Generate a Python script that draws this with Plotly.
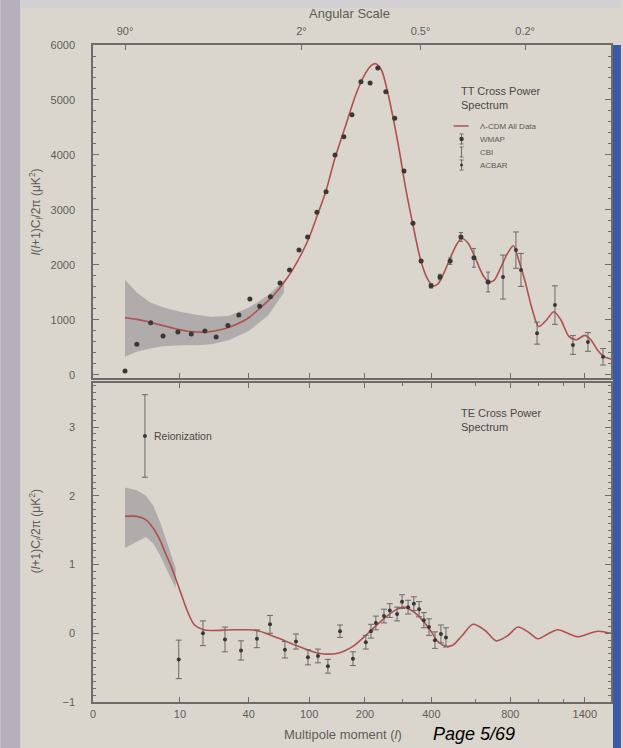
import numpy as np
import plotly.graph_objects as go

# ---------------- data ----------------
# TT: Lambda-CDM model curve
tt_model_l = [2, 3, 4, 5, 6, 8, 10, 12, 15, 20, 25, 30, 40, 50, 60, 70, 80, 90, 100, 110, 125, 140,
              160, 180, 200, 215, 226, 240, 255, 270, 290, 310, 335, 360, 385, 405, 425, 450, 480,
              510, 530, 560, 600, 640, 670, 700, 740, 780, 820, 860, 900, 950, 1000, 1060, 1120,
              1180, 1250, 1320, 1400, 1460, 1530, 1600, 1675]
tt_model = [1040, 1010, 975, 940, 910, 860, 820, 795, 780, 790, 830, 890, 1040, 1250, 1450, 1680,
            1930, 2200, 2500, 2850, 3350, 3950, 4550, 5100, 5470, 5630, 5660, 5550, 5200, 4750,
            4100, 3400, 2700, 2100, 1750, 1620, 1650, 1850, 2150, 2400, 2480, 2400, 2100, 1800,
            1700, 1720, 1950, 2200, 2350, 2050, 1700, 1200, 880, 1000, 1150, 1000, 700, 640, 720,
            640, 450, 330, 290]

# TT: cosmic-variance band
tt_band_l = [2, 3, 4.5, 6.5, 10, 15, 20, 28, 40, 55, 70]
tt_band_hi = [1730, 1500, 1320, 1230, 1150, 1090, 1060, 1070, 1220, 1450, 1720]
tt_band_lo = [330, 420, 480, 520, 540, 540, 560, 630, 800, 1080, 1500]

# TT: WMAP binned points
wmap_l = [2, 3, 4.6, 6.5, 9.5, 13, 17.5, 22, 27.6, 33.7, 40.8, 48, 57, 66, 76, 87, 98, 111, 125,
          140, 156, 172, 191, 212, 231, 252, 277, 305, 334, 362, 399, 434, 477, 526, 590, 666]
wmap_tt = [70, 560, 950, 710, 780, 745, 800, 690, 900, 1090, 1380, 1250, 1420, 1670, 1910, 2270,
           2510, 2960, 3330, 4000, 4330, 4730, 5330, 5310, 5580, 5150, 4670, 3710, 2760, 2070,
           1620, 1780, 2070, 2510, 2130, 1690]
wmap_err = [0, 0, 0, 0, 0, 0, 0, 0, 0, 0, 0, 0, 0, 0, 0, 0, 0, 0, 0, 0, 0, 0, 0, 0, 0, 0, 0, 0,
            0, 0, 40, 50, 60, 80, 170, 180]

# TT: CBI and ACBAR points
cbi_l = [754, 871, 1129, 1431]
cbi_tt = [1780, 1910, 1270, 600]
cbi_err = [400, 300, 350, 170]
acbar_l = [837, 987, 1287, 1587]
acbar_tt = [2270, 760, 545, 330]
acbar_err = [330, 200, 170, 150]

# TE: model curve
te_model_l = [2, 3, 4, 5, 6, 7, 8, 10, 12, 14, 17, 20, 30, 40, 48, 64, 86, 113, 145, 174, 207, 230,
              258, 280, 302, 334, 369, 400, 426, 460, 490, 530, 585, 650, 712, 780, 851, 920, 994,
              1070, 1154, 1240, 1334, 1430, 1534, 1675]
te_model = [1.70, 1.70, 1.65, 1.52, 1.35, 1.15, 0.98, 0.62, 0.31, 0.12, 0.05, 0.04, 0.05, 0.05,
            0.03, -0.07, -0.19, -0.29, -0.29, -0.19, 0.00, 0.13, 0.26, 0.34, 0.38, 0.32, 0.18,
            0.02, -0.12, -0.19, -0.17, -0.04, 0.13, 0.04, -0.11, -0.04, 0.09, 0.02, -0.08, -0.01,
            0.05, 0.00, -0.05, -0.01, 0.03, 0.00]

# TE: band
te_band_l = [2, 3, 4, 5, 6, 7, 8, 9]
te_band_hi = [2.12, 2.08, 2.00, 1.85, 1.62, 1.38, 1.17, 0.95]
te_band_lo = [1.24, 1.33, 1.40, 1.30, 1.13, 0.95, 0.80, 0.65]

# TE: WMAP points
te_l = [9.7, 16.8, 26.1, 35.0, 45.9, 56.6, 71.0, 83.3, 98.4, 112.5, 128, 148.9, 174, 202, 214,
        226, 247, 263, 284, 299, 318, 337, 355, 372, 391, 414, 438, 459]
te_val = [-0.38, 0.0, -0.09, -0.25, -0.08, 0.13, -0.24, -0.12, -0.35, -0.33, -0.48, 0.03, -0.37,
          -0.13, 0.03, 0.15, 0.25, 0.33, 0.28, 0.46, 0.38, 0.43, 0.35, 0.19, 0.09, -0.10, -0.01,
          -0.06]
te_err = [0.28, 0.18, 0.18, 0.14, 0.13, 0.13, 0.12, 0.11, 0.11, 0.10, 0.10, 0.09, 0.10, 0.10,
          0.10, 0.10, 0.10, 0.10, 0.10, 0.10, 0.10, 0.10, 0.11, 0.11, 0.12, 0.12, 0.13, 0.14]

# Reionization point
reion_l = [3.87]
reion_val = [2.87]
reion_err = [0.6]

# axis ticks
l_ticks = [10, 40, 100, 200, 400, 800, 1400]
l_ticktext = ["10", "40", "100", "200", "400", "800", "1400"]
l_minor = [300, 600, 1000, 1200]
ang_ticks_l = [2, 90, 360, 900]
ang_ticktext = ["90°", "2°", "0.5°", "0.2°"]
L_MAX = 1675


# ---------------- helpers ----------------
def xt(v):
    """The original figure spaces the multipole axis as l^(1/4)."""
    return np.power(np.asarray(v, dtype=float), 0.25)


X_LEFT = 0.846
X_RANGE = [X_LEFT, float(xt(L_MAX))]

W, H = 623, 748
ML, MR, MT, MB = 93, 10, 45, 46
PW, PH = W - ML - MR, H - MT - MB


def px(x):
    return (x - ML) / PW


def py(y):
    return (H - MB - y) / PH


BG = "#dbd6cd"
AX = "#6e6c6a"
TXT = "#5e5c5a"
RED = "#b0504f"
DOT = "#3a3836"
ERR = "#6a6866"
BAND = "rgba(140,138,146,0.55)"
FONT = "Liberation Sans, Arial, sans-serif"

fig = go.Figure()

# ---- top panel (TT) ----
bx = np.concatenate([xt(tt_band_l), xt(tt_band_l)[::-1]])
by = np.concatenate([tt_band_hi, tt_band_lo[::-1]])
fig.add_trace(go.Scatter(x=bx, y=by, fill="toself", fillcolor=BAND, line=dict(width=0),
                         mode="lines", hoverinfo="skip", xaxis="x2", yaxis="y2", showlegend=False))
fig.add_trace(go.Scatter(x=xt(tt_model_l), y=tt_model, mode="lines",
                         line=dict(color=RED, width=1.6, shape="spline", smoothing=0.8),
                         xaxis="x2", yaxis="y2", showlegend=False))
fig.add_trace(go.Scatter(x=xt(wmap_l), y=wmap_tt, mode="markers",
                         marker=dict(color=DOT, size=5),
                         error_y=dict(type="data", array=wmap_err, color=ERR, thickness=1, width=2),
                         xaxis="x2", yaxis="y2", showlegend=False))
fig.add_trace(go.Scatter(x=xt(cbi_l), y=cbi_tt, mode="markers",
                         marker=dict(color=DOT, size=4),
                         error_y=dict(type="data", array=cbi_err, color=ERR, thickness=1, width=3),
                         xaxis="x2", yaxis="y2", showlegend=False))
fig.add_trace(go.Scatter(x=xt(acbar_l), y=acbar_tt, mode="markers",
                         marker=dict(color=DOT, size=4),
                         error_y=dict(type="data", array=acbar_err, color=ERR, thickness=1, width=3),
                         xaxis="x2", yaxis="y2", showlegend=False))
# helper trace so the angular-scale axis is drawn
fig.add_trace(go.Scatter(x=xt(tt_model_l), y=tt_model, mode="lines", line=dict(width=0),
                         opacity=0, hoverinfo="skip", xaxis="x3", yaxis="y2", showlegend=False))

# ---- bottom panel (TE) ----
bx2 = np.concatenate([xt(te_band_l), xt(te_band_l)[::-1]])
by2 = np.concatenate([te_band_hi, te_band_lo[::-1]])
fig.add_trace(go.Scatter(x=bx2, y=by2, fill="toself", fillcolor=BAND, line=dict(width=0),
                         mode="lines", hoverinfo="skip", xaxis="x", yaxis="y", showlegend=False))
fig.add_trace(go.Scatter(x=xt(te_model_l), y=te_model, mode="lines",
                         line=dict(color=RED, width=1.6, shape="spline", smoothing=0.8),
                         xaxis="x", yaxis="y", showlegend=False))
fig.add_trace(go.Scatter(x=xt(te_l), y=te_val, mode="markers",
                         marker=dict(color=DOT, size=4),
                         error_y=dict(type="data", array=te_err, color=ERR, thickness=1, width=3),
                         xaxis="x", yaxis="y", showlegend=False))
fig.add_trace(go.Scatter(x=xt(reion_l), y=reion_val, mode="markers",
                         marker=dict(color=DOT, size=4),
                         error_y=dict(type="data", array=reion_err, color=ERR, thickness=1, width=3),
                         xaxis="x", yaxis="y", showlegend=False))

tickfont = dict(family=FONT, size=11, color=TXT)
common_x = dict(range=X_RANGE, showgrid=False, zeroline=False, showline=True, linecolor=AX,
                linewidth=1.5, ticks="inside", tickcolor=AX, ticklen=5, tickfont=tickfont)
all_tv = [X_LEFT] + list(xt(l_ticks))
all_tt = ["0"] + l_ticktext

fig.update_layout(
    width=W, height=H,
    margin=dict(l=ML, r=MR, t=MT, b=MB),
    paper_bgcolor=BG, plot_bgcolor=BG,
    font=dict(family=FONT, color=TXT),
    xaxis=dict(**common_x, anchor="y", domain=[0, 1], tickvals=all_tv, ticktext=all_tt,
               mirror="ticks", ticklabelstandoff=1,
               minor=dict(tickvals=list(xt(l_minor)), ticks="inside", ticklen=3, tickcolor=AX)),
    yaxis=dict(domain=[0, 0.4855], range=[-1, 3.64], anchor="x", showgrid=False, zeroline=False,
               showline=True, linecolor=AX, linewidth=1.5, ticks="inside", tickcolor=AX,
               ticklen=6, dtick=1, tick0=0, mirror="ticks", tickfont=tickfont,
               ticklabelstandoff=14,
               minor=dict(dtick=0.1, ticks="inside", ticklen=3, tickcolor=AX)),
    xaxis2=dict(**common_x, anchor="y2", domain=[0, 1], tickvals=all_tv, showticklabels=False),
    yaxis2=dict(domain=[0.4932, 1], range=[-55, 6000], anchor="x2", showgrid=False,
                zeroline=False, showline=True, linecolor=AX, linewidth=1.5, ticks="inside",
                tickcolor=AX, ticklen=6, dtick=1000, tick0=0, mirror="ticks", tickfont=tickfont,
                ticklabelstandoff=14,
                minor=dict(dtick=200, ticks="inside", ticklen=3, tickcolor=AX)),
    xaxis3=dict(**common_x, anchor="y2", overlaying="x2", side="top",
                tickvals=list(xt(ang_ticks_l)), ticktext=ang_ticktext, ticklabelstandoff=4),
)


def note(x, y, text, size, color=TXT, xanchor="center", yanchor="middle", **kw):
    d = dict(x=x, y=y, xref="paper", yref="paper", text=text, showarrow=False,
             xanchor=xanchor, yanchor=yanchor, font=dict(family=FONT, size=size, color=color))
    d.update(kw)
    return d


ann = []
# axis titles
ann.append(note(px(350), py(13), "Angular Scale", 13))
ann.append(note(px(344), py(734), "Multipole moment (<i>l</i>)", 13))
ann.append(note(px(36), py(212), "<i>l</i>(<i>l</i>+1)C<sub><i>l</i></sub>/2π (μK<sup>2</sup>)",
                12, textangle=-90))
ann.append(note(px(36), py(531), "(<i>l</i>+1)C<sub><i>l</i></sub>/2π (μK<sup>2</sup>)",
                12, textangle=-90))
# panel labels
ann.append(note(px(460), py(83), "TT Cross Power<br>Spectrum", 11, color="#4a4846",
                xanchor="left", yanchor="top", align="left"))
ann.append(note(px(460), py(405), "TE Cross Power<br>Spectrum", 11, color="#4a4846",
                xanchor="left", yanchor="top", align="left"))
# reionization label (anchored to the data point)
ann.append(dict(x=float(xt(reion_l)[0]), y=reion_val[0], xref="x", yref="y", xanchor="left",
                yanchor="middle", xshift=7, text="Reionization", showarrow=False,
                font=dict(family=FONT, size=10.5, color="#4a4846")))
# legend texts
leg_items = [("Λ-CDM All Data", 126), ("WMAP", 139), ("CBI", 152), ("ACBAR", 165)]
for t, yy in leg_items:
    ann.append(note(px(479), py(yy), t, 8, color="#5a5856", xanchor="left"))
# page number
ann.append(note(px(432), py(734), "<i>Page 5/69</i>", 18, color="black", xanchor="left"))

shapes = []
# slide decoration
shapes.append(dict(type="rect", xref="paper", yref="paper", x0=px(0), x1=px(20), y0=py(H), y1=py(0),
                   fillcolor="#b6b0bd", line=dict(width=0), layer="below"))
shapes.append(dict(type="rect", xref="paper", yref="paper", x0=px(20), x1=px(W), y0=py(8), y1=py(0),
                   fillcolor="#d3d0d3", line=dict(width=0), layer="below"))
shapes.append(dict(type="rect", xref="paper", yref="paper", x0=px(615), x1=px(W), y0=py(H), y1=py(45),
                   fillcolor="#3a5aa8", line=dict(width=0), layer="below"))
# legend glyphs
shapes.append(dict(type="line", xref="paper", yref="paper", x0=px(455), x1=px(470), y0=py(126), y1=py(126),
                   line=dict(color=RED, width=1.5)))
for yy, dot in [(139, 2.2), (152, 0), (165, 1.5)]:
    shapes.append(dict(type="line", xref="paper", yref="paper", x0=px(463), x1=px(463),
                       y0=py(yy - 5), y1=py(yy + 5), line=dict(color=ERR, width=1)))
    for cap in (yy - 5, yy + 5):
        shapes.append(dict(type="line", xref="paper", yref="paper", x0=px(461), x1=px(465),
                           y0=py(cap), y1=py(cap), line=dict(color=ERR, width=1)))
    if dot:
        shapes.append(dict(type="circle", xref="paper", yref="paper", x0=px(463 - dot), x1=px(463 + dot),
                           y0=py(yy + dot), y1=py(yy - dot), fillcolor=DOT, line=dict(width=0)))

fig.update_layout(annotations=ann, shapes=shapes)
fig.write_html("out.html")
